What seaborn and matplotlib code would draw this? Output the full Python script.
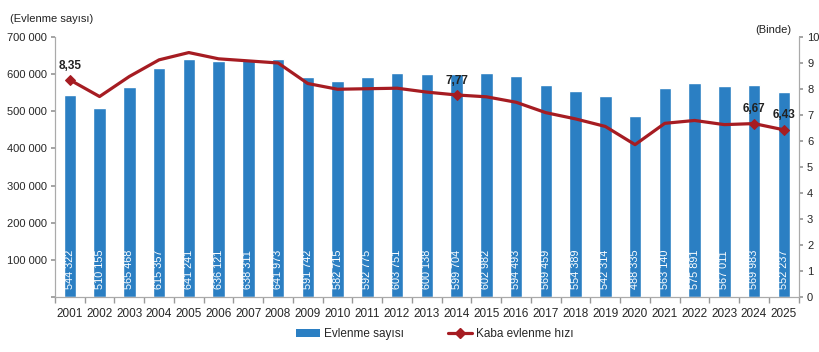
import matplotlib
matplotlib.use("Agg")
import matplotlib.pyplot as plt
import seaborn as sns
import numpy as np
import pandas as pd
from matplotlib.lines import Line2D
from matplotlib.patches import Patch

years = [str(y) for y in range(2001, 2026)]
marriages = [544322, 510155, 565468, 615357, 641241, 636121, 638311, 641973, 591742,
             582715, 592775, 603751, 600138, 599704, 602982, 594493, 569459, 554389,
             542314, 488335, 563140, 575891, 567011, 569983, 552237]
rate = [8.35, 7.71, 8.48, 9.12, 9.40, 9.16, 9.08, 9.00, 8.21, 7.99, 8.01, 8.03, 7.88,
        7.77, 7.70, 7.49, 7.09, 6.85, 6.56, 5.86, 6.68, 6.79, 6.63, 6.67, 6.43]
labeled_years = ["2001", "2014", "2024", "2025"]

bar_color = "#2b7fc3"
line_color = "#a61c22"

sns.set_theme(style="white")
plt.rcParams['font.family'] = ['Liberation Sans', 'DejaVu Sans']

df = pd.DataFrame({"year": years, "marriages": marriages, "rate": rate})
df["pos"] = np.arange(len(df))

fig = plt.figure(figsize=(8.2, 3.52), dpi=100)
ax = fig.add_axes([0.067, 0.156, 0.907, 0.739])

sns.barplot(data=df, x="year", y="marriages", color=bar_color, width=0.42,
            saturation=1, ax=ax)
ax.set_ylim(0, 700000)
ax.set_xlim(-0.5, len(df) - 0.5)
ax.set_yticks(range(0, 700001, 100000))
ax.set_yticklabels([""] + [f"{v:,}".replace(",", " ") for v in range(100000, 700001, 100000)],
                   fontsize=8)
ax.set_xlabel("")
ax.set_ylabel("")
ax.tick_params(axis="x", labelsize=8.5, length=0, pad=8)
ax.tick_params(axis="y", length=3, color="#999999", left=True, pad=3)
ax.set_xticks(np.arange(-0.5, len(df), 1), minor=True)
ax.tick_params(axis="x", which="minor", length=4, color="#999999", bottom=True)

for i, v in enumerate(df["marriages"]):
    ax.text(i, 23000, f"{v:,}".replace(",", " "), rotation=90, ha="center", va="bottom",
            color="white", fontsize=7.8,
            family=['Liberation Sans Narrow', 'Liberation Sans', 'DejaVu Sans'])

ax.spines["top"].set_visible(False)
for s in ["left", "bottom", "right"]:
    ax.spines[s].set_color("#aaaaaa")
    ax.spines[s].set_linewidth(0.8)

ax2 = ax.twinx()
mark_idx = [years.index(y) for y in labeled_years]
sns.lineplot(data=df, x="pos", y="rate", color=line_color, linewidth=2.3, ax=ax2,
             marker="D", markersize=5, markevery=mark_idx,
             markeredgecolor=line_color, markerfacecolor=line_color)
ax2.set_ylim(0, 10)
ax2.set_yticks(range(0, 11))
ax2.tick_params(axis="y", labelsize=8, length=3, color="#999999", right=True, pad=3)
ax2.set_xlabel("")
ax2.set_ylabel("")
ax2.spines["top"].set_visible(False)
for s in ["left", "bottom", "right"]:
    ax2.spines[s].set_color("#aaaaaa")
    ax2.spines[s].set_linewidth(0.8)

for y in labeled_years:
    i = years.index(y)
    ax2.annotate(f"{rate[i]:.2f}".replace(".", ","), (i, rate[i]), xytext=(0, 6),
                 textcoords="offset points", ha="center", va="bottom",
                 fontsize=8.5, fontweight="bold", color="#222222")

fig.text(0.012, 0.945, "(Evlenme sayısı)", fontsize=8, ha="left", va="center", color="#222222")
fig.text(0.965, 0.915, "(Binde)", fontsize=8, ha="right", va="center", color="#222222")

handles = [Patch(facecolor=bar_color, edgecolor="none"),
           Line2D([0], [0], color=line_color, linewidth=2.3, marker="D", markersize=5)]
fig.legend(handles, ["Evlenme sayısı", "Kaba evlenme hızı"], loc="center",
           bbox_to_anchor=(0.53, 0.05), ncol=2, frameon=False, fontsize=8.5,
           handlelength=2.1, handleheight=0.6, columnspacing=3.7, handletextpad=0.3)

fig.savefig("out.png", dpi=100)
